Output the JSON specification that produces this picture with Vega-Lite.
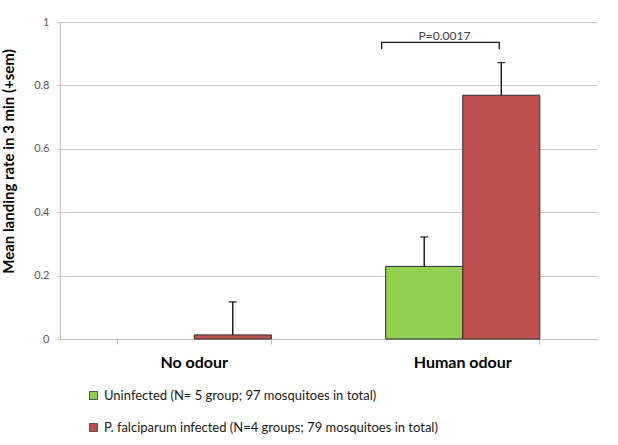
{
  "$schema": "https://vega.github.io/schema/vega-lite/v6.json",
  "width": 537,
  "height": 317,
  "autosize": {"type": "none"},
  "padding": {"left": 60, "top": 22, "right": 21, "bottom": 106},
  "background": "white",
  "config": {
    "font": "Lato",
    "view": {"stroke": null}
  },
  "datasets": {
    "bars": [
      {"odour": "No odour", "group": "Uninfected (N= 5 group; 97 mosquitoes in total)", "value": 0, "upper": null},
      {"odour": "No odour", "group": "P. falciparum infected (N=4 groups; 79 mosquitoes in total)", "value": 0.013, "upper": 0.117},
      {"odour": "Human odour", "group": "Uninfected (N= 5 group; 97 mosquitoes in total)", "value": 0.229, "upper": 0.322},
      {"odour": "Human odour", "group": "P. falciparum infected (N=4 groups; 79 mosquitoes in total)", "value": 0.769, "upper": 0.872}
    ],
    "bracket": [
      {"pos": 1.198, "level": 0.914, "step": 1},
      {"pos": 1.198, "level": 0.936, "step": 2},
      {"pos": 1.636, "level": 0.936, "step": 3},
      {"pos": 1.636, "level": 0.914, "step": 4}
    ],
    "label": [
      {"pos": 1.432, "level": 0.955, "text": "P=0.0017"}
    ]
  },
  "layer": [
    {
      "data": {"name": "bars"},
      "layer": [
        {
          "mark": {"type": "bar", "stroke": "#2e2e2e", "strokeWidth": 1},
          "encoding": {
            "x": {
              "field": "odour",
              "type": "nominal",
              "sort": ["No odour", "Human odour"],
              "scale": {"paddingInner": 0.426, "paddingOuter": 0.213},
              "axis": {
                "title": null,
                "labelAngle": 0,
                "labelFont": "Lato",
                "labelFontSize": 16,
                "labelFontWeight": "bold",
                "labelColor": "#000000",
                "labelPadding": 10,
                "domainColor": "#bfbfbf",
                "tickColor": "#bfbfbf",
                "tickSize": 5,
                "bandPosition": 1,
                "tickExtra": true
              }
            },
            "xOffset": {
              "field": "group",
              "type": "nominal",
              "sort": ["Uninfected (N= 5 group; 97 mosquitoes in total)", "P. falciparum infected (N=4 groups; 79 mosquitoes in total)"],
              "scale": {"paddingInner": 0, "paddingOuter": 0}
            },
            "y": {
              "field": "value",
              "type": "quantitative",
              "scale": {"domain": [0, 1], "nice": false},
              "axis": {
                "title": "Mean landing rate in 3 min (+sem)",
                "titleFont": "Lato",
                "titleFontSize": 15,
                "titleFontWeight": "bold",
                "titleColor": "#000000",
                "titleX": -44,
                "titleY": 139,
                "values": [0, 0.2, 0.4, 0.6, 0.8, 1],
                "format": "~g",
                "labelFontSize": 11,
                "labelColor": "#595959",
                "labelPadding": 8,
                "tickSize": 3,
                "tickColor": "#bfbfbf",
                "domainColor": "#bfbfbf",
                "gridColor": "#c8c8c8",
                "gridWidth": 1
              }
            },
            "color": {
              "field": "group",
              "type": "nominal",
              "sort": ["Uninfected (N= 5 group; 97 mosquitoes in total)", "P. falciparum infected (N=4 groups; 79 mosquitoes in total)"],
              "scale": {"range": ["#92d050", "#c0504d"]},
              "legend": {
                "title": null,
                "orient": "none",
                "legendX": 27,
                "legendY": 367,
                "direction": "vertical",
                "symbolType": "square",
                "symbolSize": 64,
                "symbolStrokeColor": "#333333",
                "symbolStrokeWidth": 0.8,
                "labelFont": "Lato",
                "labelFontSize": 13,
                "labelColor": "#1a1a1a",
                "labelOffset": 4,
                "labelLimit": 500,
                "rowPadding": 18
              }
            },
            "strokeOpacity": {
              "condition": {"test": "datum.value > 0", "value": 1},
              "value": 0
            }
          }
        },
        {
          "transform": [{"filter": "datum.upper != null"}],
          "mark": {"type": "rule", "color": "#000000", "strokeWidth": 1.3},
          "encoding": {
            "x": {"field": "odour", "type": "nominal", "sort": ["No odour", "Human odour"]},
            "xOffset": {"field": "group", "type": "nominal", "sort": ["Uninfected (N= 5 group; 97 mosquitoes in total)", "P. falciparum infected (N=4 groups; 79 mosquitoes in total)"]},
            "y": {"field": "value", "type": "quantitative"},
            "y2": {"field": "upper"}
          }
        },
        {
          "transform": [{"filter": "datum.upper != null"}],
          "mark": {"type": "tick", "color": "#000000", "size": 8, "thickness": 1.5, "orient": "horizontal"},
          "encoding": {
            "x": {"field": "odour", "type": "nominal", "sort": ["No odour", "Human odour"]},
            "xOffset": {"field": "group", "type": "nominal", "sort": ["Uninfected (N= 5 group; 97 mosquitoes in total)", "P. falciparum infected (N=4 groups; 79 mosquitoes in total)"]},
            "y": {"field": "upper", "type": "quantitative"}
          }
        }
      ]
    },
    {
      "data": {"name": "bracket"},
      "mark": {"type": "line", "color": "#1a1a1a", "strokeWidth": 1.3, "interpolate": "linear"},
      "encoding": {
        "x": {"field": "pos", "type": "quantitative", "scale": {"domain": [0, 2], "nice": false}, "axis": null},
        "y": {"field": "level", "type": "quantitative"},
        "order": {"field": "step", "type": "quantitative"}
      }
    },
    {
      "data": {"name": "label"},
      "mark": {"type": "text", "font": "Lato", "fontSize": 12, "color": "#404040", "baseline": "middle", "align": "center"},
      "encoding": {
        "x": {"field": "pos", "type": "quantitative", "scale": {"domain": [0, 2], "nice": false}, "axis": null},
        "y": {"field": "level", "type": "quantitative"},
        "text": {"field": "text"}
      }
    }
  ],
  "resolve": {"scale": {"x": "independent"}, "axis": {"x": "independent"}}
}
